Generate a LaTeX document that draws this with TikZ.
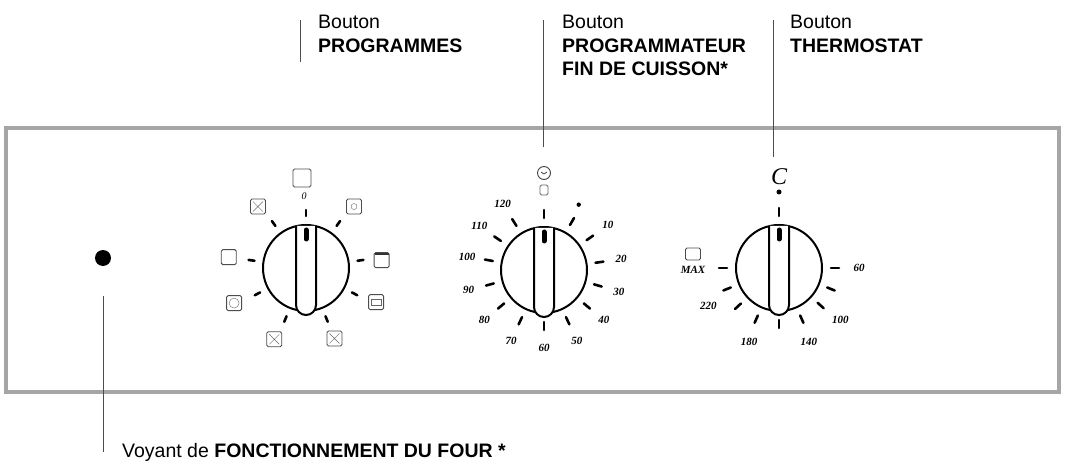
\documentclass[tikz,border=0pt]{standalone}
\usepackage{fontspec}
\setmainfont{Liberation Sans}
\newfontfamily\dialfont{Liberation Serif}
\usetikzlibrary{positioning}

\tikzset{
  lbl/.style={anchor=north west, align=left, inner sep=0pt, font=\fontsize{19.5}{23.5}\selectfont},
  lead/.style={draw=black!70, line width=1pt},
  tick/.style={line width=2.6pt, line cap=round},
  num/.style={font=\dialfont\bfseries\itshape\fontsize{11}{11}\selectfont, inner sep=0pt},
  icon/.style={draw=black!70, rounded corners=1.5pt, minimum size=15pt, inner sep=0pt, line width=0.9pt},
}
\newcommand{\knobbody}{%
  \draw[line width=2pt, fill=white] (0,0) circle (43);
  \draw[line width=2pt, fill=white] (-10,42) -- (-10,-37) arc (180:360:10) -- (10,42);
  \draw[line width=5pt, line cap=round] (0,38) -- (0,29);
}

\begin{document}
\begin{tikzpicture}[x=1pt, y=-1pt]
  \useasboundingbox (0,0) rectangle (1065,470);

  % --- panel ---
  \draw[black!35, line width=3.5pt] (6,128) rectangle (1059,392);
  \fill (103,258) circle (8);

  % --- knob centres ---
  \coordinate (kprog) at (306,268);
  \coordinate (ktimer) at (544,270);
  \coordinate (kthermo) at (779,268);
  \coordinate (lamp) at (103,296);

  % --- labels ---
  \node[lbl] (tprog) at (318,15) {Bouton\\\textbf{PROGRAMMES}};
  \node[lbl] (ttimer) at (562,15) {Bouton\\\textbf{PROGRAMMATEUR}\\\textbf{FIN DE CUISSON*}};
  \node[lbl] (tthermo) at (790,15) {Bouton\\\textbf{THERMOSTAT}};
  \node[lbl, anchor=west] (tlamp) at (122,452) {Voyant de \textbf{FONCTIONNEMENT DU FOUR *}};

  % --- leader lines ---
  \draw[lead] (tprog.north west) ++(-18,5) -- ++(0,42);
  \draw[lead] (ttimer.north west) ++(-19,5) -- ++(0,127);
  \draw[lead] (tthermo.north west) ++(-17,5) -- ++(0,137);
  \draw[lead] (lamp) -- (lamp |- tlamp);

  % --- programmes knob ---
  \begin{scope}[shift={(kprog)}, yscale=-1]
    \knobbody
    \foreach \a in {90,126,54,172,8,208,332,248,292}
      \draw[tick] (\a:52) -- (\a:58);
    \node[icon, minimum size=18pt] (p0) at (-4,90) {};
    \node[num, font=\dialfont\itshape\fontsize{10}{10}\selectfont] (pzero) at (-2,72) {0};
    \foreach \a/\r in {128/78, 52/78, 172/78, 6/76, 206/80, 334/78, 246/78, 292/76}
      \node[icon] at (\a:\r) {};
    \draw[black!60] (128:78) ++(-5,-5) -- ++(10,10) ++(0,-10) -- ++(-10,10);
    \draw[black!60] (246:78) ++(-5,-5) -- ++(10,10) ++(0,-10) -- ++(-10,10);
    \draw[black!60] (292:76) ++(-5,-5) -- ++(10,10) ++(0,-10) -- ++(-10,10);
    \draw[black!60] (206:80) circle (5);
    \draw[black!60] (52:78) circle (3);
    \draw[black!60] (334:78) ++(-5,-3) rectangle ++(10,6);
    \draw[black!80, line width=1.4pt] (6:76) ++(-7,6) -- ++(14,0);
  \end{scope}

  % --- timer knob ---
  \begin{scope}[shift={(ktimer)}, yscale=-1]
    \knobbody
    \foreach \a in {90,60,35,8,-16,-40,-65,-90,-115,-140,-165,170,146,122}
      \draw[tick] (\a:52) -- (\a:60);
    \fill (62:74) circle (2.2);
    \foreach \a/\t in {35/10, 8/20, -16/30, -40/40, -65/50, -90/60, -115/70, -140/80, -165/90, 170/100, 146/110, 122/120}
      \node[num] at (\a:78) {\t};
    \node[draw=black!75, circle, minimum size=13pt, inner sep=0pt, line width=0.9pt] (clock) at (0,97) {};
    \draw[black!75, line width=0.8pt] (-3,98) -- (0,96) -- (3,98);
    \draw[black!60, line width=0.8pt, rounded corners=1.5pt] (-4,75) rectangle (4,85);
  \end{scope}

  % --- thermostat knob ---
  \begin{scope}[shift={(kthermo)}, yscale=-1]
    \knobbody
    \foreach \a in {90,0,-22,-42,-66,-90,-114,-137,-158,180}
      \draw[tick] (\a:52) -- (\a:60);
    \fill (0,76) circle (2.5);
    \node[font=\dialfont\itshape\fontsize{24}{24}\selectfont, inner sep=0pt] (ctxt) at (0,91) {C};
    \foreach \a/\t in {0/60, -40/100, -68/140, -112/180, -152/220}
      \node[num] at (\a:80) {\t};
    \node[num] (max) at (-86,-2) {MAX};
    \node[icon, minimum width=15pt, minimum height=12pt] at (-86,14) {};
  \end{scope}
\end{tikzpicture}
\end{document}
